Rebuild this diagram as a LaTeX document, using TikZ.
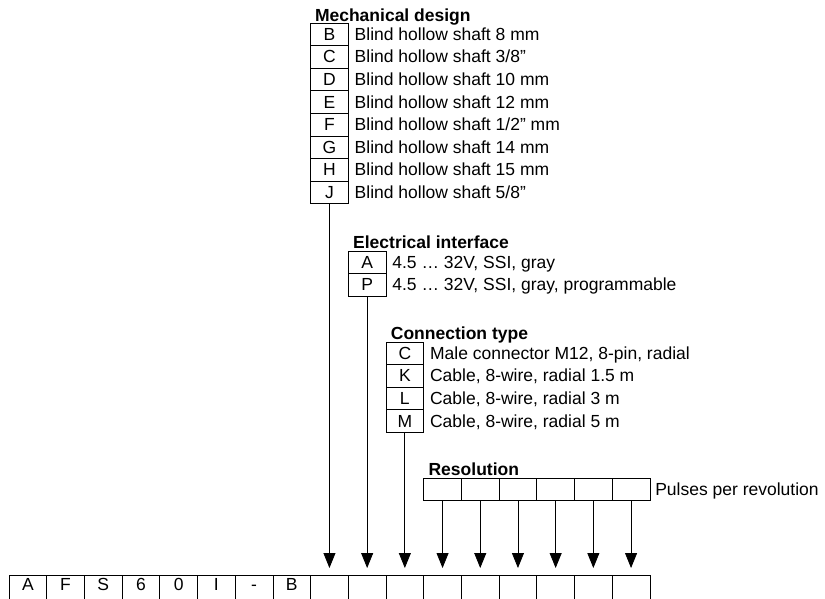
\documentclass[tikz,border=0pt]{standalone}
\usepackage{fontspec}
\setmainfont{Liberation Sans}
\usepackage{tikz}
\usetikzlibrary{arrows.meta,positioning}

\begin{document}
\begin{tikzpicture}[
  x=1pt, y=-1pt,
  font=\fontsize{17.5pt}{20pt}\selectfont,
  every path/.style={line width=0.8pt},
  cell/.style={draw, anchor=north west, inner sep=0pt, outer sep=0pt,
    minimum width=37.7pt, minimum height=22.6pt, text height=12pt, text depth=0pt},
  codecell/.style={cell, minimum height=26pt, text depth=8pt},
  title/.style={font=\fontsize{17.5pt}{20pt}\selectfont\bfseries, anchor=base west, inner sep=0pt},
  option/.style={anchor=base west, inner sep=0pt},
  arr/.style={-{Triangle[width=12pt,length=15pt]}, shorten >=7pt}
]
\useasboundingbox (0,0) rectangle (825,598);

% type code row
\foreach \c [count=\i] in {A,F,S,6,0,I,-,B,{},{},{},{},{},{},{},{},{}}
  \node[codecell] (c\i) at ({9+37.7*(\i-1)},575) {\c};

% mechanical design
\foreach \l/\t [count=\i] in {B/{Blind hollow shaft 8 mm}, C/{Blind hollow shaft 3/8”},
    D/{Blind hollow shaft 10 mm}, E/{Blind hollow shaft 12 mm}, F/{Blind hollow shaft 1/2” mm},
    G/{Blind hollow shaft 14 mm}, H/{Blind hollow shaft 15 mm}, J/{Blind hollow shaft 5/8”}} {
  \node[cell] (m\i) at ({9+37.7*8},{23+22.6*(\i-1)}) {\l};
  \node[option] (mt\i) at ([xshift=6pt]m\i.base east) {\t};
}
\node[title] (mechtitle) at ([xshift=4pt,yshift=2pt]m1.north west) {Mechanical design};

% electrical interface
\foreach \l/\t [count=\i] in {A/{4.5 … 32V, SSI, gray}, P/{4.5 … 32V, SSI, gray, programmable}} {
  \node[cell] (e\i) at ({9+37.7*9},{251+22.6*(\i-1)}) {\l};
  \node[option] (et\i) at ([xshift=6pt]e\i.base east) {\t};
}
\node[title] (electitle) at ([xshift=4.5pt,yshift=3pt]e1.north west) {Electrical interface};

% connection type
\foreach \l/\t [count=\i] in {C/{Male connector M12, 8-pin, radial}, K/{Cable, 8-wire, radial 1.5 m},
    L/{Cable, 8-wire, radial 3 m}, M/{Cable, 8-wire, radial 5 m}} {
  \node[cell] (k\i) at ({9+37.7*10},{342+22.6*(\i-1)}) {\l};
  \node[option] (kt\i) at ([xshift=6pt]k\i.base east) {\t};
}
\node[title] (conntitle) at ([xshift=4.5pt,yshift=3pt]k1.north west) {Connection type};

% resolution
\foreach \i in {1,...,6}
  \node[cell] (r\i) at ({9+37.7*(10+\i)},478) {};
\node[title] (restitle) at ([xshift=4.5pt,yshift=3pt]r1.north west) {Resolution};
\node[option] (pulses) at ([xshift=5pt]r6.base east) {Pulses per revolution};

% connectors
\draw[arr] (m8.south) -- (c9.north);
\draw[arr] (e2.south) -- (c10.north);
\draw[arr] (k4.south) -- (c11.north);
\foreach \i [evaluate=\i as \j using int(\i+11)] in {1,...,6}
  \draw[arr] (r\i.south) -- (c\j.north);
\end{tikzpicture}
\end{document}
